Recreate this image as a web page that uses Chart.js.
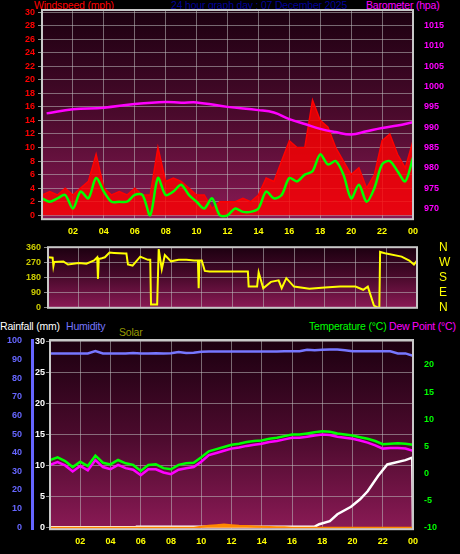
<!DOCTYPE html>
<html>
<head>
<meta charset="utf-8">
<script src="https://cdn.jsdelivr.net/npm/chart.js@4/dist/chart.umd.min.js"></script>
<style>
  body { margin: 0; background: #000; width: 460px; height: 554px; overflow: hidden; position: relative; font-family: "Liberation Sans", Arial, sans-serif; }
  canvas { position: absolute; left: 0; }
  .t { position: absolute; font-size: 10.5px; white-space: nowrap; letter-spacing: -0.2px; }
</style>
</head>
<body>
<div class="t" style="left:34px;top:-1px;color:#ff0000">Windspeed (mph)</div>
<div class="t" style="left:171px;top:-1px;color:#000099">24 hour graph day : 07 December 2025</div>
<div class="t" style="left:366px;top:-1px;color:#ff00ff">Barometer (hpa)</div>
<div class="t" style="left:0px;top:320px;color:#ffffff">Rainfall (mm)</div>
<div class="t" style="left:66px;top:320px;color:#7777ff">Humidity</div>
<div class="t" style="left:119px;top:326px;color:#999900">Solar</div>
<div class="t" style="left:309px;top:320px;color:#00ff00">Temperature (°C)</div>
<div class="t" style="left:389px;top:320px;color:#ff00ff">Dew Point (°C)</div>
<canvas id="wind" width="460" height="244" style="top:0"></canvas>
<canvas id="dir" width="460" height="103" style="top:226px"></canvas>
<canvas id="temp" width="460" height="236" style="top:318px"></canvas>
<script>
// half-hourly readings, 00:00 .. 24:00
const windAvg = [2.5, 2, 2.5, 3, 1, 3.5, 2.5, 5.5, 3.5, 2, 2, 2, 3, 3, 0, 5.5, 3, 3.5, 4.5, 3, 2, 1, 2.5, 0, 0, 1, 0.5, 0.5, 1, 3.5, 2.5, 3, 5.5, 5, 6, 6.5, 9, 7.5, 8, 6, 2.5, 4.5, 2, 4, 7.5, 8, 6.5, 5, 8.5];
const windGust = [3, 3.5, 3, 4, 3, 4, 5, 9, 4, 3, 3.5, 3, 4, 3, 3, 10, 5, 5.5, 5, 4, 3, 3, 1, 2, 2, 2, 2.5, 2, 3, 5.5, 5, 8, 11, 10, 10, 17, 14, 13, 10, 8, 6, 7, 4, 6, 11, 12, 9, 7, 11];
// barometer
const baroHours = [0.3, 2, 4, 6, 8, 9, 10, 12, 14, 15, 16, 17, 18, 19, 20, 21, 22, 23, 24];
const baro = [993.4, 994.4, 994.8, 995.7, 996.2, 996.0, 996.1, 995.0, 994.2, 993.6, 992.0, 990.8, 989.6, 988.8, 988.2, 989.0, 989.8, 990.4, 991.2];

const dirHours = [0, 0.3, 0.35, 0.4, 1, 1.3, 2, 2.5, 3, 3.2, 3.25, 3.3, 3.5, 3.7, 4, 4.3, 5, 5.1, 5.2, 5.5, 6, 6.5, 6.65, 6.7, 7.0, 7.1, 7.2, 7.4, 7.6, 8, 8.5, 9, 9.5, 9.75, 9.8, 9.85, 10, 10.2, 10.5, 13, 13.05, 13.5, 13.6, 13.7, 14, 14.5, 15, 15.2, 15.5, 16, 17, 18, 19, 20, 20.5, 20.8, 21.2, 21.5, 21.55, 21.6, 22, 23, 23.5, 23.8, 24];
const dirDeg = [300, 298, 248, 272, 275, 257, 266, 262, 281, 300, 172, 290, 294, 300, 328, 326, 322, 322, 257, 251, 304, 285, 285, 19, 19, 19, 349, 229, 313, 276, 285, 285, 281, 281, 116, 281, 281, 219, 216, 216, 126, 126, 126, 210, 116, 154, 163, 116, 176, 126, 113, 120, 126, 126, 107, 126, 13, 0, 0, 332, 322, 304, 281, 257, 281];
const compass = { 0: "N", 90: "E", 180: "S", 270: "W", 360: "N" };

const temperature = [2.5, 3, 2.3, 1.2, 2.2, 1.4, 3.3, 2, 1.7, 2.5, 1.9, 1.6, 0.5, 1.6, 1.7, 1, 0.8, 1.6, 1.9, 2, 3, 4.1, 4.5, 4.9, 5.3, 5.5, 5.8, 6.0, 6.1, 6.4, 6.6, 6.9, 7.2, 7.2, 7.4, 7.6, 7.8, 7.7, 7.4, 7.2, 7.0, 6.7, 6.4, 6.0, 5.4, 5.5, 5.6, 5.5, 5.3];
const dewPoint = [1.6, 2.1, 1.5, 0.4, 1.4, 0.6, 2.5, 1.2, 0.8, 1.6, 1.0, 0.7, -0.3, 0.8, 0.8, 0.2, -0.1, 0.7, 1.0, 1.2, 2.2, 3.4, 3.8, 4.2, 4.6, 4.8, 5.1, 5.3, 5.5, 5.8, 6.0, 6.3, 6.6, 6.6, 6.8, 7.0, 7.2, 7.1, 6.8, 6.6, 6.4, 6.1, 5.7, 5.2, 4.6, 4.7, 4.7, 4.6, 4.2];
const humidity = [93.3, 93.3, 93.3, 93.3, 93.3, 93.3, 94.5, 93.3, 93.2, 93.3, 93.3, 93.5, 93.3, 93.3, 93.4, 93.3, 93.4, 94, 93.5, 93.6, 94.2, 94.3, 94.3, 94.3, 94.3, 94.3, 94.3, 94.3, 94.3, 94.3, 94.3, 94.4, 94.4, 94.5, 95.2, 95, 95.3, 95.4, 95.4, 95, 94.5, 94.4, 94.4, 94.4, 94.4, 94.4, 93.3, 93.3, 92];
const solar = [0, 0, 0, 0, 0, 0, 0, 0, 0, 0, 0, 0, 0, 0, 0, 0, 0, 0, 0, 0, 3, 6, 8, 10, 8, 6, 5, 4, 3, 2, 1, 1, 0, 0, 0, 0, 0, 0, 0, 0, 0, 0, 0, 0, 0, 0, 0, 0, 0];
const rainHours = [0, 5.7, 5.75, 17.5, 17.8, 18.5, 19, 19.9, 20.5, 21, 21.7, 22.3, 23.5, 23.95, 24];
const rainfall = [0.1, 0.1, 0.2, 0.2, 0.6, 1.1, 2.2, 3.4, 4.6, 5.9, 8.4, 10.2, 10.9, 11.3, 0];

const halfHour = (v, i) => ({ x: i * 0.5, y: v });
const pairs = (xs, ys) => xs.map((x, i) => ({ x, y: ys[i] }));
const pad = v => String(v % 24).padStart(2, "0");

const backdrop = {
  id: "backdrop",
  beforeDraw(chart) {
    const { ctx, chartArea: a } = chart;
    ctx.save();
    const g = ctx.createLinearGradient(0, a.top, 0, a.bottom);
    g.addColorStop(0, "#1c0010");
    g.addColorStop(0.5, "#4a0a2c");
    g.addColorStop(1, "#8a1a55");
    ctx.fillStyle = g;
    ctx.fillRect(a.left, a.top, a.right - a.left, a.bottom - a.top);
    ctx.restore();
  },
  afterDraw(chart) {
    const { ctx, chartArea: a } = chart;
    ctx.save();
    ctx.strokeStyle = "#c8c8c8";
    ctx.lineWidth = 2;
    ctx.strokeRect(a.left, a.top, a.right - a.left, a.bottom - a.top);
    ctx.restore();
  }
};

const font = { family: "Liberation Sans", size: 9, weight: "bold" };
const grid = { color: "rgba(190,190,190,0.55)", lineWidth: 1, borderDash: [2, 2], drawTicks: true, tickColor: "#888", tickLength: 4 };
const fixW = w => function (s) { s.width = w; };
const setTicks = vals => function (s) { s.ticks = vals.map(v => ({ value: v })); };
const xAxis = show => ({
  type: "linear", min: 0, max: 24,
  grid: { ...grid, drawTicks: false },
  border: { display: false },
  afterBuildTicks: setTicks([2, 4, 6, 8, 10, 12, 14, 16, 18, 20, 22, 24]),
  ticks: { display: show, autoSkip: false, color: "#ffff00", font, padding: 7, maxRotation: 0, callback: pad }
});
const yTicks = (color, extra) => ({ autoSkip: false, color, font, padding: 3, callback: v => v, ...extra });
const base = {
  responsive: false, animation: false,
  plugins: { legend: { display: false }, tooltip: { enabled: false } },
  elements: { point: { radius: 0 }, line: { tension: 0 } }
};

new Chart(document.getElementById("wind"), {
  type: "line",
  data: {
    datasets: [
      { data: baro.map((v, i) => ({ x: baroHours[i], y: v })), yAxisID: "baro", borderColor: "#ff00ff", borderWidth: 2.5, tension: 0.4 },
      { data: windAvg.map(halfHour), yAxisID: "y", borderColor: "#00ff00", borderWidth: 2.5, tension: 0.3 },
      { data: windGust.map(halfHour), yAxisID: "y", borderColor: "#ff0000", backgroundColor: "rgba(255,0,0,0.8)", borderWidth: 1.5, fill: "origin" }
    ]
  },
  options: {
    ...base,
    layout: { padding: { top: 10, bottom: 0 } },
    scales: {
      x: xAxis(true),
      y: {
        position: "left", min: -0.58, max: 30.3, afterFit: fixW(42),
        afterBuildTicks: setTicks([0, 2, 4, 6, 8, 10, 12, 14, 16, 18, 20, 22, 24, 26, 28, 30]),
        grid, border: { display: false },
        ticks: yTicks("#ff0000")
      },
      baro: {
        position: "right", min: 967.4, max: 1018.8, afterFit: fixW(47),
        afterBuildTicks: setTicks([970, 975, 980, 985, 990, 995, 1000, 1005, 1010, 1015]),
        grid: { display: false }, border: { color: "#ff00ff", width: 2 },
        ticks: yTicks("#ff00ff")
      }
    }
  },
  plugins: [backdrop]
});

new Chart(document.getElementById("dir"), {
  type: "line",
  data: {
    datasets: [
      { data: pairs(dirHours, dirDeg), yAxisID: "y", borderColor: "#ffff00", borderWidth: 2 }
    ]
  },
  options: {
    ...base,
    layout: { padding: { top: 8, bottom: 0 } },
    scales: {
      x: { ...xAxis(false), afterFit: s => { s.height = 0; } },
      y: {
        position: "left", min: 0, max: 360, afterFit: fixW(48),
        afterBuildTicks: setTicks([0, 90, 180, 270, 360]),
        grid, border: { display: false },
        ticks: yTicks("#cccc00")
      },
      c: {
        position: "right", min: 0, max: 360, afterFit: fixW(43),
        afterBuildTicks: setTicks([0, 90, 180, 270, 360]),
        grid: { display: false }, border: { display: false },
        ticks: yTicks("#ffff00", { font: { family: "Liberation Sans", size: 12 }, padding: 14, callback: v => compass[v] })
      }
    }
  },
  plugins: [backdrop]
});

new Chart(document.getElementById("temp"), {
  type: "line",
  data: {
    datasets: [
      { data: humidity.map(halfHour), yAxisID: "hum", borderColor: "#7777ff", borderWidth: 2.5 },
      { data: solar.map(halfHour), yAxisID: "sol", borderColor: "#ff8800", backgroundColor: "#ff8800", borderWidth: 2, fill: "origin" },
      { data: temperature.map(halfHour), yAxisID: "t", borderColor: "#00ff00", borderWidth: 2.5 },
      { data: dewPoint.map(halfHour), yAxisID: "t", borderColor: "#ff00ff", borderWidth: 2.5 },
      { data: pairs(rainHours, rainfall), yAxisID: "rain", borderColor: "#ffffff", borderWidth: 2.5 }
    ]
  },
  options: {
    ...base,
    layout: { padding: { top: 22, bottom: 0 } },
    scales: {
      x: xAxis(true),
      rain: {
        position: "left", min: -0.2, max: 30.2, afterFit: fixW(18),
        afterBuildTicks: setTicks([0, 5, 10, 15, 20, 25, 30]),
        grid, border: { display: false },
        ticks: yTicks("#ffffff", { padding: 1 })
      },
      hum: {
        position: "left", min: -1.1, max: 100.5, afterFit: fixW(32),
        afterBuildTicks: setTicks([0, 10, 20, 30, 40, 50, 60, 70, 80, 90, 100]),
        grid: { display: false }, border: { color: "#6666ff", width: 3 },
        ticks: yTicks("#6666ff", { padding: 2 })
      },
      sol: { display: false, min: -5, max: 600 },
      t: {
        position: "right", min: -10.24, max: 24.6, afterFit: fixW(47),
        afterBuildTicks: setTicks([-10, -5, 0, 5, 10, 15, 20]),
        grid: { display: false }, border: { color: "#cccccc", width: 2 },
        ticks: yTicks("#00ff00")
      }
    }
  },
  plugins: [backdrop]
});
</script>
</body>
</html>
